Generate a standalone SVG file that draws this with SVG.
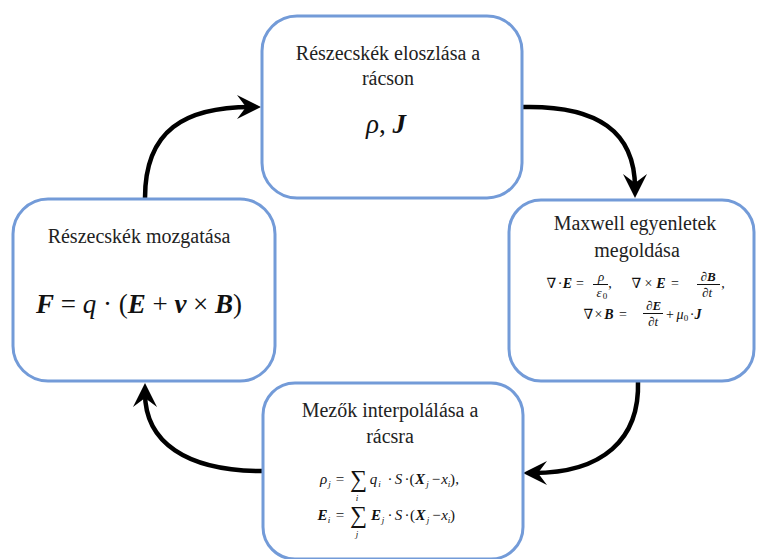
<svg xmlns="http://www.w3.org/2000/svg" width="757" height="559" viewBox="0 0 757 559">
<style>
.box{fill:#fff;stroke:#739bd8;stroke-width:3}
.lbl{font-size:20px;fill:#222;text-anchor:middle}
.mth{fill:#111;text-anchor:middle}
.s13{font-size:14px}
.s12{font-size:13px}
.s9{font-size:9px}
.s14{font-size:15px}
.bi{font-weight:bold;font-style:italic}
.it{font-style:italic}
.arr{fill:none;stroke:#000;stroke-width:4.5;marker-end:url(#ah)}
.fr{stroke:#111;stroke-width:1}
</style>
<defs>
<marker id="ah" markerUnits="userSpaceOnUse" markerWidth="26" markerHeight="26" viewBox="0 0 26 26" refX="14" refY="13" orient="auto">
<path d="M24,13 L0,1 L9,13 L0,25 Z" fill="#000"/>
</marker>
</defs>
<rect width="757" height="559" fill="#fff"/>

<g id="connectors">
<path class="arr" d="M522,107 C598,105 635,132 635,188"/>
<path class="arr" d="M638,381 C640,440 602,473 533,473"/>
<path class="arr" d="M262,471 C186,471 145,442 145,393"/>
<path class="arr" d="M145,198 C145,130 185,107 251,107"/>
</g>

<g id="node-top">
<rect class="box" x="262" y="16" width="260" height="182" rx="35"/>
<text class="lbl" font-family="Liberation Serif" x="388" y="60">Részecskék eloszlása a</text>
<text class="lbl" font-family="Liberation Serif" x="388" y="85">rácson</text>
<text class="mth" font-family="Liberation Serif" x="386" y="133" font-size="27"><tspan class="it">ρ</tspan>, <tspan class="bi">J</tspan></text>
</g>

<g id="node-right">
<rect class="box" x="509" y="200" width="245" height="181" rx="32"/>
<text class="lbl" font-family="Liberation Serif" x="635" y="230">Maxwell egyenletek</text>
<text class="lbl" font-family="Liberation Serif" x="637" y="257">megoldása</text>
<g class="mth s13" font-family="Liberation Serif, DejaVu Serif, serif">
<text x="551.5" y="288">∇</text><text x="560" y="288">·</text><text class="bi" x="567.5" y="288">E</text><text x="580" y="288">=</text>
<text class="it s12" x="601" y="281">ρ</text><line class="fr" x1="593" y1="284.5" x2="608" y2="284.5"/>
<text class="it s12" x="599" y="297">ε</text><text class="s9" x="605" y="299">0</text>
<text x="610" y="288">,</text>
<text x="636.5" y="288">∇</text><text x="648.5" y="288">×</text><text class="bi" x="661" y="288">E</text><text x="675" y="288">=</text>
<text class="s12" x="708" y="281">∂<tspan class="bi">B</tspan></text><line class="fr" x1="697" y1="284.5" x2="720" y2="284.5"/>
<text class="s12" x="707" y="297">∂<tspan class="it">t</tspan></text>
<text x="723" y="288">,</text>
<text x="588.5" y="319">∇</text><text x="598.5" y="319">×</text><text class="bi" x="609" y="319">B</text><text x="623" y="319">=</text>
<text class="s12" x="653.5" y="310">∂<tspan class="bi">E</tspan></text><line class="fr" x1="643" y1="313.5" x2="663" y2="313.5"/>
<text class="s12" x="653" y="326">∂<tspan class="it">t</tspan></text>
<text x="670" y="319">+</text><text class="it" x="680" y="319">μ</text><text class="s9" x="686" y="321">0</text><text x="692" y="319">·</text><text class="bi" x="698" y="319">J</text>
</g>
</g>

<g id="node-bottom">
<rect class="box" x="263" y="383" width="260" height="176" rx="32"/>
<text class="lbl" font-family="Liberation Serif" x="390" y="417">Mezők interpolálása a</text>
<text class="lbl" font-family="Liberation Serif" x="390" y="443">rácsra</text>
<g class="mth s14" font-family="Liberation Serif, DejaVu Serif, serif">
<text class="it" x="323.5" y="484">ρ</text><text class="it s9" x="329.5" y="487">j</text>
<text x="340" y="484">=</text>
<text x="358.5" y="487" font-size="24">∑</text><text class="it s9" x="357" y="501">i</text>
<text class="it" x="373.5" y="484">q</text><text class="it s9" x="379.5" y="487">i</text>
<text x="390" y="484">·</text><text class="it" x="398.5" y="484">S</text><text x="407" y="484">·</text>
<text x="412" y="484">(</text><text class="bi" x="420" y="484">X</text><text class="it s9" x="427.5" y="487">j</text>
<text x="436" y="484">−</text><text class="it" x="444.5" y="484">x</text><text class="it s9" x="449" y="487">i</text>
<text x="452.5" y="484">)</text><text x="457" y="484">,</text>

<text class="bi" x="322.5" y="520">E</text><text class="it s9" x="329" y="523">i</text>
<text x="340" y="520">=</text>
<text x="358.5" y="523" font-size="24">∑</text><text class="it s9" x="357" y="537">j</text>
<text class="bi" x="376" y="520">E</text><text class="it s9" x="383" y="523">j</text>
<text x="390" y="520">·</text><text class="it" x="398.5" y="520">S</text><text x="407" y="520">·</text>
<text x="412.5" y="520">(</text><text class="bi" x="420.5" y="520">X</text><text class="it s9" x="428" y="523">j</text>
<text x="436.5" y="520">−</text><text class="it" x="444.5" y="520">x</text><text class="it s9" x="449" y="523">i</text>
<text x="452.5" y="520">)</text>
</g>
</g>

<g id="node-left">
<rect class="box" x="13" y="199" width="262" height="182" rx="35"/>
<text class="lbl" font-family="Liberation Serif" x="139" y="243">Részecskék mozgatása</text>
<text class="mth" font-family="Liberation Serif" x="139" y="313" font-size="27"><tspan class="bi">F</tspan> = <tspan class="it">q</tspan> · (<tspan class="bi">E</tspan> + <tspan class="bi">v</tspan> × <tspan class="bi">B</tspan>)</text>
</g>
</svg>
